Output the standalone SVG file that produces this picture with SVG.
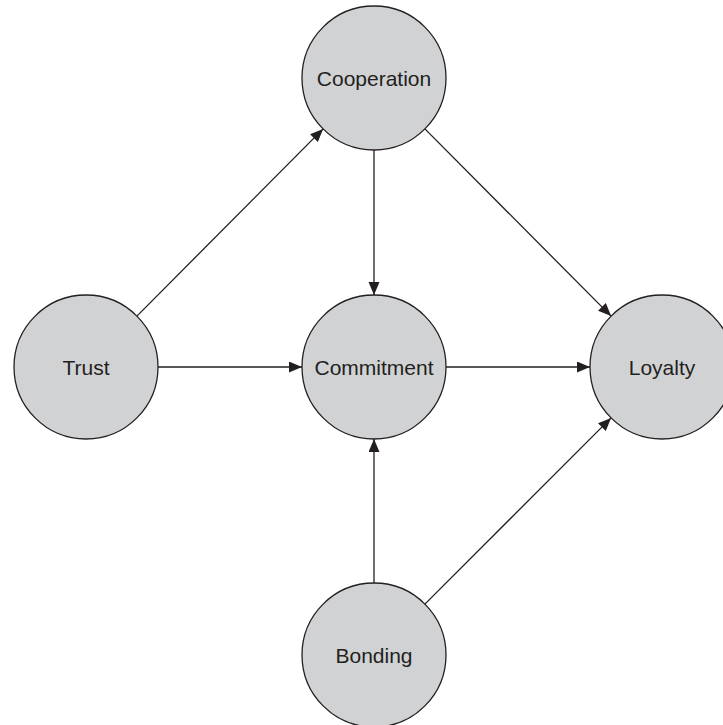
<svg xmlns="http://www.w3.org/2000/svg" width="723" height="725" viewBox="0 0 723 725">
<style>
.node circle{fill:#d1d2d4;stroke:#231f20;stroke-width:1.3}
.node text{font-family:"Liberation Sans",Arial,sans-serif;font-size:21px;fill:#231f20;text-anchor:middle}
.edges line{stroke:#231f20;stroke-width:1.3;marker-end:url(#ah)}
</style>
<defs>
<marker id="ah" markerUnits="userSpaceOnUse" markerWidth="14" markerHeight="12" refX="13" refY="5.5" orient="auto">
<path d="M0,0 L13,5.5 L0,11 z" fill="#231f20"/>
</marker>
</defs>
<rect width="723" height="725" fill="#ffffff"/>
<g id="cooperation" class="node"><circle cx="374" cy="78" r="72"/><text x="374" y="85.5">Cooperation</text></g>
<g id="trust" class="node"><circle cx="86" cy="367" r="72"/><text x="86" y="374.5">Trust</text></g>
<g id="commitment" class="node"><circle cx="374" cy="367" r="72"/><text x="374" y="374.5">Commitment</text></g>
<g id="loyalty" class="node"><circle cx="662" cy="367" r="72"/><text x="662" y="374.5">Loyalty</text></g>
<g id="bonding" class="node"><circle cx="374" cy="655" r="72"/><text x="374" y="662.5">Bonding</text></g>
<g id="connectors" class="edges">
<line x1="136.9" y1="316.1" x2="323.1" y2="128.9"/>
<line x1="424.9" y1="128.9" x2="611.1" y2="316.1"/>
<line x1="424.9" y1="604.1" x2="611.1" y2="417.9"/>
<line x1="158" y1="367" x2="302" y2="367"/>
<line x1="374" y1="150" x2="374" y2="295"/>
<line x1="446" y1="367" x2="590" y2="367"/>
<line x1="374" y1="583" x2="374" y2="439"/>
</g>
</svg>
